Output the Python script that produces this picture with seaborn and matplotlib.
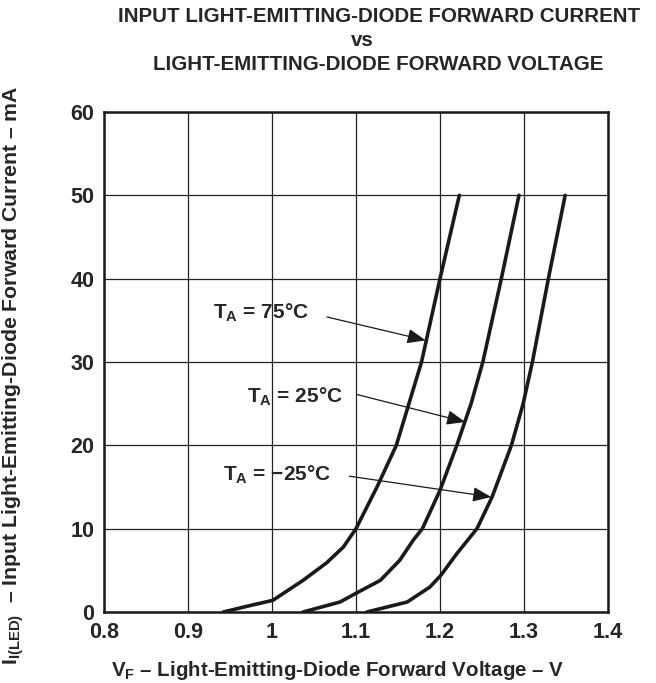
import pandas as pd
import seaborn as sns
import matplotlib.pyplot as plt

# data
temps = ["75", "25", "-25"]
v_75 = [0.942, 0.975, 1.001, 1.037, 1.065, 1.085, 1.100, 1.125, 1.148, 1.163, 1.178, 1.200, 1.223]
i_75 = [0, 0.8, 1.4, 3.8, 5.9, 7.8, 10, 15, 20, 25, 30, 40, 50]
v_25 = [1.037, 1.081, 1.101, 1.129, 1.152, 1.168, 1.179, 1.200, 1.220, 1.237, 1.251, 1.273, 1.294]
i_25 = [0, 1.2, 2.3, 3.8, 6.2, 8.6, 10, 14.6, 20, 25, 30, 40, 50]
v_m25 = [1.113, 1.161, 1.188, 1.201, 1.220, 1.236, 1.244, 1.262, 1.285, 1.299, 1.310, 1.329, 1.349]
i_m25 = [0, 1.2, 3.0, 4.4, 7.0, 9.0, 10, 13.8, 20, 25, 30, 40, 50]

x_ticks = [0.8, 0.9, 1.0, 1.1, 1.2, 1.3, 1.4]
x_labels = ["0.8", "0.9", "1", "1.1", "1.2", "1.3", "1.4"]
y_ticks = [0, 10, 20, 30, 40, 50, 60]

df = pd.concat([
    pd.DataFrame({"V": v_75, "I": i_75, "T": "75"}),
    pd.DataFrame({"V": v_25, "I": i_25, "T": "25"}),
    pd.DataFrame({"V": v_m25, "I": i_m25, "T": "-25"}),
])

sns.set_style("white")
plt.rcParams["font.family"] = ["Liberation Sans", "DejaVu Sans"]
plt.rcParams["font.weight"] = "bold"
plt.rcParams["mathtext.fontset"] = "custom"
plt.rcParams["mathtext.bf"] = "Liberation Sans:bold"
plt.rcParams["mathtext.rm"] = "Liberation Sans:bold"
plt.rcParams["mathtext.it"] = "Liberation Sans:bold"

fig = plt.figure(figsize=(6.56, 6.83), dpi=100)
ax = fig.add_axes([104 / 656, 1 - 612 / 683, 504 / 656, 500 / 683])

sns.lineplot(data=df, x="V", y="I", hue="T", hue_order=temps,
             palette=["#1a1a1a"] * 3, sort=False, estimator=None,
             linewidth=2.6, legend=False, ax=ax)

ax.set_xlim(0.8, 1.4)
ax.set_ylim(0, 60)
ax.set_xticks(x_ticks)
ax.set_xticklabels(x_labels)
ax.set_yticks(y_ticks)
ax.tick_params(length=0, labelsize=15.5, pad=7)
for lab in ax.get_xticklabels() + ax.get_yticklabels():
    lab.set_fontweight("bold")
ax.grid(True, color="#222222", linewidth=0.9)
for s in ax.spines.values():
    s.set_linewidth(1.8)
    s.set_color("#1a1a1a")
ax.set_xlabel("")
ax.set_ylabel("")

# annotations
arrow = dict(arrowstyle="-|>,head_length=0.75,head_width=0.3", color="#1a1a1a",
             lw=0.9, mutation_scale=15, shrinkA=0, shrinkB=0)
ax.text(0.93, 35.9, r"$\mathbf{T_A}$ = 75°C", fontsize=15, fontweight="bold", va="center")
ax.annotate("", xy=(1.183, 32.6), xytext=(1.0655, 35.4), arrowprops=arrow)
ax.text(0.970, 25.8, r"$\mathbf{T_A}$ = 25°C", fontsize=15, fontweight="bold", va="center")
ax.annotate("", xy=(1.230, 22.8), xytext=(1.101, 26.1), arrowprops=arrow)
ax.text(0.942, 16.4, r"$\mathbf{T_A}$ = −25°C", fontsize=15, fontweight="bold", va="center")
ax.annotate("", xy=(1.261, 13.8), xytext=(1.092, 16.3), arrowprops=arrow)

# titles and axis labels
fig.text(379 / 656, 1 - 17 / 683, "INPUT LIGHT-EMITTING-DIODE FORWARD CURRENT",
         ha="center", va="center", fontsize=14.8, fontweight="bold")
fig.text(362 / 656, 1 - 40 / 683, "vs", ha="center", va="center",
         fontsize=14.8, fontweight="bold")
fig.text(378 / 656, 1 - 65 / 683, "LIGHT-EMITTING-DIODE FORWARD VOLTAGE",
         ha="center", va="center", fontsize=14.8, fontweight="bold")
fig.text(338 / 656, 1 - 670 / 683,
         r"$\mathbf{V_F}$ – Light-Emitting-Diode Forward Voltage – V",
         ha="center", va="center", fontsize=14.8, fontweight="bold")
fig.text(13 / 656, 1 - 375 / 683,
         r"$\mathbf{I_{I(LED)}}$  – Input Light-Emitting-Diode Forward Current – mA",
         ha="center", va="center", rotation=90, fontsize=15.3, fontweight="bold")

fig.savefig("out.png", dpi=100)
